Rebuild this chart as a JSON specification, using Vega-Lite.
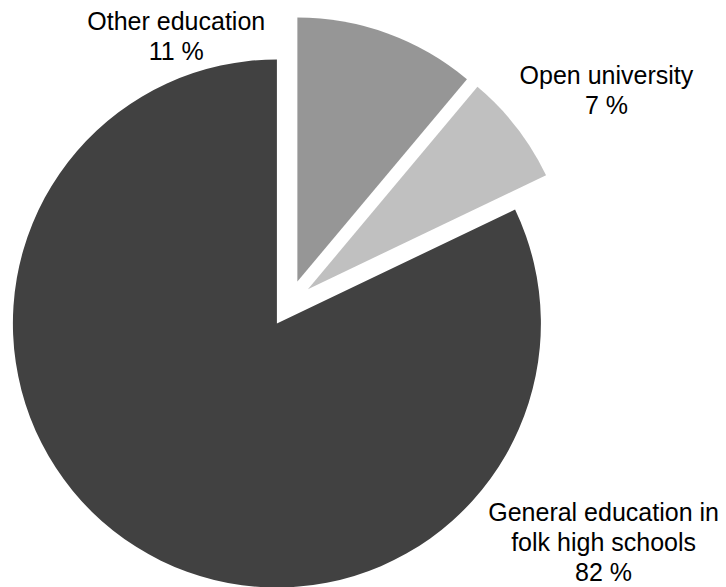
{
  "$schema": "https://vega.github.io/schema/vega-lite/v6.json",
  "width": 726,
  "height": 587,
  "autosize": {"type": "fit", "contains": "padding"},
  "padding": 0,
  "background": "white",
  "view": {"stroke": null},
  "data": {
    "values": [
      {"category": "Other education", "value": 11.1, "order": 1, "label": "Other education\n11 %"},
      {"category": "Open university", "value": 6.8, "order": 2, "label": "Open university\n7 %"},
      {"category": "General education in folk high schools", "value": 82.1, "order": 3, "label": "General education in\nfolk high schools\n82 %"}
    ]
  },
  "transform": [
    {"stack": "value", "groupby": [], "sort": [{"field": "order"}], "as": ["v0", "v1"]},
    {"calculate": "(datum.v0 + datum.v1) / 2", "as": "mid"}
  ],
  "encoding": {
    "color": {
      "field": "category",
      "type": "nominal",
      "scale": {
        "domain": ["Other education", "Open university", "General education in folk high schools"],
        "range": ["#969696", "#c0c0c0", "#414141"]
      },
      "legend": null
    }
  },
  "layer": [
    {
      "transform": [{"filter": "datum.category == 'Other education'"}],
      "mark": {"type": "arc", "x": 297.4, "y": 281.5, "radius": 264},
      "encoding": {
        "theta": {"field": "v0", "type": "quantitative", "stack": null, "scale": {"domain": [0, 100]}},
        "theta2": {"field": "v1"}
      }
    },
    {
      "transform": [{"filter": "datum.category == 'Open university'"}],
      "mark": {"type": "arc", "x": 307.9, "y": 289.2, "radius": 264},
      "encoding": {
        "theta": {"field": "v0", "type": "quantitative", "stack": null, "scale": {"domain": [0, 100]}},
        "theta2": {"field": "v1"}
      }
    },
    {
      "transform": [{"filter": "datum.category == 'General education in folk high schools'"}],
      "mark": {"type": "arc", "x": 276.9, "y": 323.5, "radius": 264},
      "encoding": {
        "theta": {"field": "v0", "type": "quantitative", "stack": null, "scale": {"domain": [0, 100]}},
        "theta2": {"field": "v1"}
      }
    },
    {
      "transform": [{"filter": "datum.category == 'Other education'"}],
      "mark": {"type": "text", "x": 289.4, "y": 303.6, "radius": 289.7, "thetaOffset": -0.75, "dy": -15, "lineBreak": "\n", "lineHeight": 30, "fontSize": 25, "font": "Liberation Sans", "align": "center", "baseline": "middle", "color": "black"},
      "encoding": {
        "theta": {"field": "mid", "type": "quantitative", "stack": null, "scale": {"domain": [0, 100]}},
        "text": {"field": "label"},
        "color": {"value": "black"}
      }
    },
    {
      "transform": [{"filter": "datum.category == 'Open university'"}],
      "mark": {"type": "text", "x": 289.4, "y": 303.6, "radius": 382, "thetaOffset": 0.068, "dy": -15, "lineBreak": "\n", "lineHeight": 30, "fontSize": 25, "font": "Liberation Sans", "align": "center", "baseline": "middle", "color": "black"},
      "encoding": {
        "theta": {"field": "mid", "type": "quantitative", "stack": null, "scale": {"domain": [0, 100]}},
        "text": {"field": "label"},
        "color": {"value": "black"}
      }
    },
    {
      "transform": [{"filter": "datum.category == 'General education in folk high schools'"}],
      "mark": {"type": "text", "x": 289.4, "y": 303.6, "radius": 394.7, "thetaOffset": -1.483, "dy": -30, "lineBreak": "\n", "lineHeight": 30, "fontSize": 25, "font": "Liberation Sans", "align": "center", "baseline": "middle", "color": "black"},
      "encoding": {
        "theta": {"field": "mid", "type": "quantitative", "stack": null, "scale": {"domain": [0, 100]}},
        "text": {"field": "label"},
        "color": {"value": "black"}
      }
    }
  ]
}
